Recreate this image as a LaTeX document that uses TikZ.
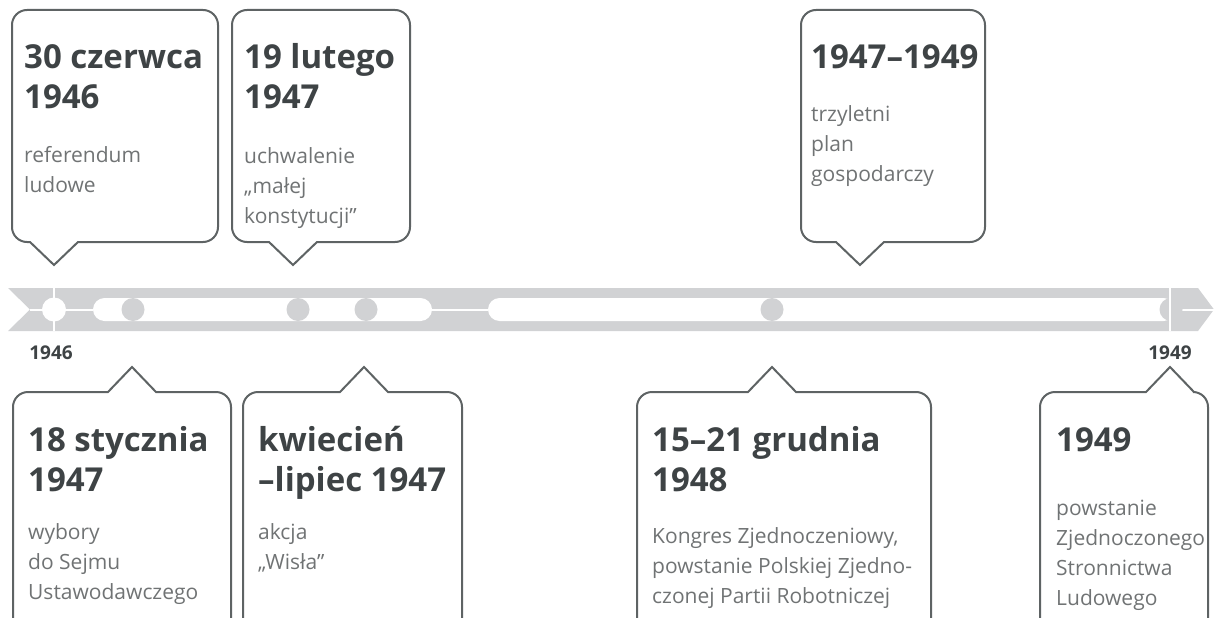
\documentclass[tikz,border=0pt]{standalone}
\usepackage{fontspec}
\setmainfont{Open Sans}
\usetikzlibrary{positioning}
\definecolor{bandgray}{HTML}{D1D2D4}
\definecolor{boxline}{HTML}{5E6364}
\definecolor{titlegray}{HTML}{3E4345}
\definecolor{bodygray}{HTML}{707374}

\begin{document}
\begin{tikzpicture}[x=1pt,y=-1pt,
	box/.style={draw=boxline,line width=2pt},
	title/.style={anchor=base west,inner sep=0pt,align=left,text=titlegray,font=\fontsize{33}{40}\selectfont\bfseries},
	body/.style={anchor=base west,inner sep=0pt,align=left,text=bodygray,font=\fontsize{21}{30}\selectfont},
	yearlabel/.style={anchor=base,inner sep=0pt,text=titlegray,font=\fontsize{19}{20}\selectfont\bfseries}]
	\useasboundingbox (0,0) rectangle (1215,618);
	\clip (0,0) rectangle (1215,618);
	
	% time band
	\fill[bandgray] (8,288) -- (1198,288) -- (1214,309.5) -- (1198,331) -- (8,331) -- (30,309.5) -- cycle;
	\fill[white,rounded corners=11.5pt] (93,298) rectangle (432,321);
	\fill[white,rounded corners=11.5pt] (488,298) rectangle (1175,321);
	\draw[white,line width=2pt] (30,309.5) -- (93,309.5) (432,309.5) -- (488,309.5) (1182,309.5) -- (1215,309.5);
	\fill[white] (54,309.5) circle (12);
	\foreach \x in {133,298,366,772,1171}
		\fill[bandgray] (\x,309.5) circle (11.5);
	\draw[white,line width=2.5pt] (54,288) -- (54,331) (1170,288) -- (1170,331);
	
	\node[yearlabel] (y1946) at (51,359) {1946};
	\node[yearlabel] (y1949) at (1170,359) {1949};
	
	% callouts above the band
	\foreach \xl/\xr/\xt in {12/218/54, 232/410/293, 801/985/860}
		\draw[box] (\xt,265) -- (\xt+24,242) [rounded corners=15pt] -- (\xr,242) -- (\xr,10) -- (\xl,10) -- (\xl,242) [sharp corners] -- (\xt-24,242) -- cycle;
	
	% callouts below the band
	\foreach \xl/\xr/\xt in {13/231/132, 243/462/364, 637/931/772, 1040/1208/1170}
		\draw[box] (\xl,640) [rounded corners=15pt] -- (\xl,392) [sharp corners] -- (\xt-24,392) -- (\xt,367) -- (\xt+24,392) [rounded corners=15pt] -- (\xr,392) -- (\xr,640);
	
	% texts (anchored at the baseline of their last line)
	\node[title] (t1) at (24,108) {30 czerwca\\1946};
	\node[body] (b1) at (24,192) {referendum\\ludowe};
	\node[title] (t2) at (244,108) {19 lutego\\1947};
	\node[body] (b2) at (244,223) {uchwalenie\\„małej\\konstytucji”};
	\node[title] (t3) at (811,68) {1947–1949};
	\node[body] (b3) at (811,181) {trzyletni\\plan\\gospodarczy};
	
	\node[title] (t4) at (28,491) {18 stycznia\\1947};
	\node[body] (b4) at (28,599) {wybory\\do Sejmu\\Ustawodawczego};
	\node[title] (t5) at (258,491) {kwiecień\\–lipiec 1947};
	\node[body] (b5) at (258,569) {akcja\\„Wisła”};
	\node[title] (t6) at (652,491) {15–21 grudnia\\1948};
	\node[body] (b6) at (652,603) {Kongres Zjednoczeniowy,\\powstanie Polskiej Zjedno-\\czonej Partii Robotniczej};
	\node[title] (t7) at (1056,451) {1949};
	\node[body] (b7) at (1056,605) {powstanie\\Zjednoczonego\\Stronnictwa\\Ludowego};
\end{tikzpicture}
\end{document}
